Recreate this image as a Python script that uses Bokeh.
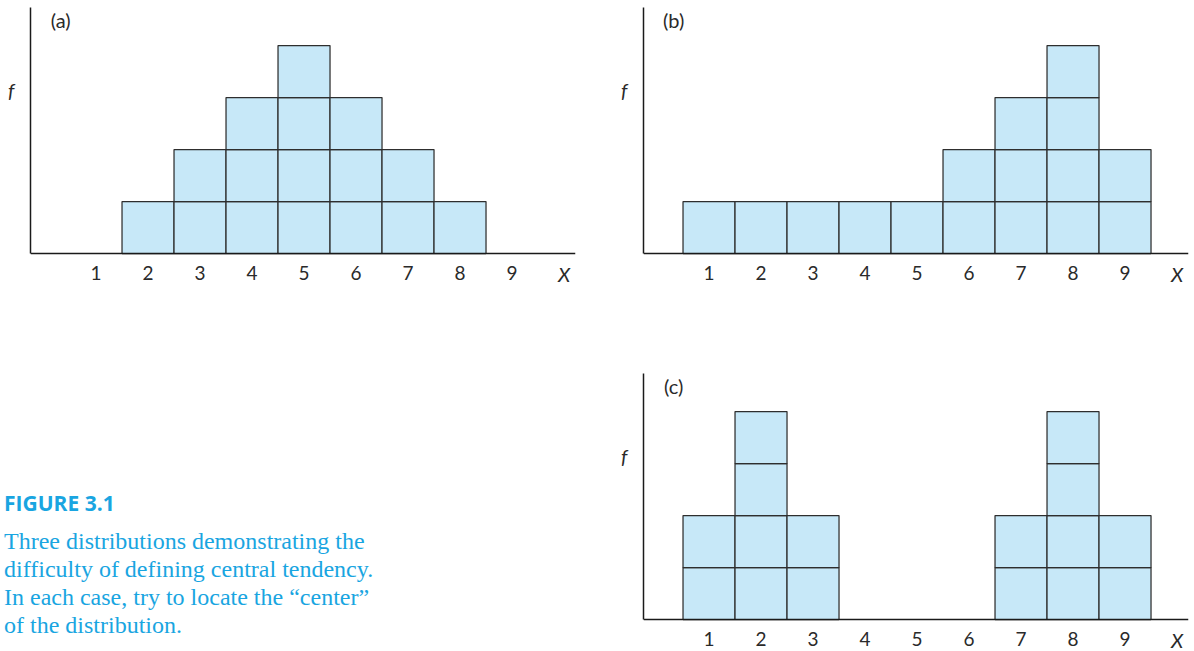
from bokeh.plotting import figure
from bokeh.models import Range1d, FixedTicker, Label, Div, ColumnDataSource
from bokeh.layouts import row, column
from bokeh.embed import file_html
from bokeh.resources import INLINE

# ---- data ----
x_values = [1, 2, 3, 4, 5, 6, 7, 8, 9]
tick_labels = ["1", "2", "3", "4", "5", "6", "7", "8", "9"]
freq_a = [0, 1, 2, 3, 4, 3, 2, 1, 0]
freq_b = [1, 1, 1, 1, 1, 2, 3, 4, 2]
freq_c = [2, 4, 2, 0, 0, 0, 2, 4, 2]
panel_names = ["(a)", "(b)", "(c)"]
x_name = "X"
y_name = "f"
caption_title = "FIGURE 3.1"
caption_lines = [
    "Three distributions demonstrating the",
    "difficulty of defining central tendency.",
    "In each case, try to locate the \u201ccenter\u201d",
    "of the distribution.",
]

# ---- style ----
FILL = "#C7E8F8"
EDGE = "#2E2E2E"
AXIS = "#1A1A1A"
TEXT = "#2A2A2A"
CAP = "#19A5E1"
FONT = "Lato"
UNIT = 52.0            # pixels per data unit
AXIS_PX = 246          # height of the y axis line in pixels
Y_TOP = AXIS_PX / UNIT
FRAME_W = 545
F_POS = 3.15           # where the "f" name sits on the vertical axis


def make_panel(freqs, name, mbl, mbr, mbt, below_px):
    y_bottom = -below_px / UNIT
    x0 = -0.26
    x1 = x0 + FRAME_W / UNIT
    p = figure(width=mbl + FRAME_W + mbr, height=mbt + AXIS_PX + below_px,
               output_backend="svg", toolbar_location=None,
               x_range=Range1d(x0, x1), y_range=Range1d(y_bottom, Y_TOP),
               min_border_left=mbl, min_border_right=mbr,
               min_border_top=mbt, min_border_bottom=0)
    p.outline_line_color = None
    p.grid.visible = False
    p.background_fill_color = None
    p.border_fill_color = None
    cx, cy = [], []
    for x, f in zip(x_values, freqs):
        for k in range(f):
            cx.append(x)
            cy.append(k + 0.5)
    src = ColumnDataSource(dict(x=cx, y=cy))
    p.rect(x="x", y="y", width=1, height=1, source=src,
           fill_color=FILL, line_color=EDGE, line_width=1.25)

    xa = p.xaxis[0]
    xa.fixed_location = 0
    xa.ticker = FixedTicker(ticks=x_values, minor_ticks=[])
    xa.major_label_overrides = {x: t for x, t in zip(x_values, tick_labels)}
    xa.major_tick_line_color = None
    xa.minor_tick_line_color = None
    xa.axis_line_color = AXIS
    xa.axis_line_width = 1.5
    xa.major_label_standoff = 6
    xa.major_label_text_font = FONT
    xa.major_label_text_font_size = "19px"
    xa.major_label_text_color = TEXT

    ya = p.yaxis[0]
    ya.bounds = (0, Y_TOP)
    ya.ticker = FixedTicker(ticks=[F_POS], minor_ticks=[])
    ya.major_label_overrides = {F_POS: y_name}
    ya.major_tick_line_color = None
    ya.minor_tick_line_color = None
    ya.axis_line_color = AXIS
    ya.axis_line_width = 1.5
    ya.major_label_standoff = 10
    ya.major_label_text_font = FONT
    ya.major_label_text_font_style = "italic"
    ya.major_label_text_font_size = "20px"
    ya.major_label_text_color = TEXT

    p.add_layout(Label(x=0.32, y=4.5, text=name, text_align="center",
                       text_baseline="middle", text_font=FONT,
                       text_font_size="20px", text_color=TEXT))
    p.add_layout(Label(x=10, y=-0.39, text=x_name, text_align="center",
                       text_baseline="middle", text_font=FONT,
                       text_font_style="italic",
                       text_font_size="20px", text_color=TEXT))
    return p


# row 1 (height 287)
pa = make_panel(freq_a, panel_names[0], 30, 20, 7, 34)
pb = make_panel(freq_b, panel_names[1], 48, 6, 7, 34)
# row 2 (height 364)
pc = make_panel(freq_c, panel_names[2], 48, 6, 86, 32)

lines_html = "<br>".join(caption_lines)
html = (
    '<div style="position:relative;width:595px;height:364px;">'
    '<div style="position:absolute;left:4px;top:205px;font-family:\'Open Sans\';'
    'font-weight:bold;font-size:21px;line-height:22px;color:%s;white-space:nowrap;">%s</div>'
    '<div style="position:absolute;left:4px;top:240px;font-family:\'Liberation Serif\';'
    'font-size:24px;line-height:28px;color:%s;white-space:nowrap;">%s</div>'
    '</div>' % (CAP, caption_title, CAP, lines_html)
)
cap = Div(text=html, width=595, height=364, margin=(0, 0, 0, 0))

layout = column(row(pa, pb), row(cap, pc))

open("out.html", "w").write(file_html(layout, INLINE))
